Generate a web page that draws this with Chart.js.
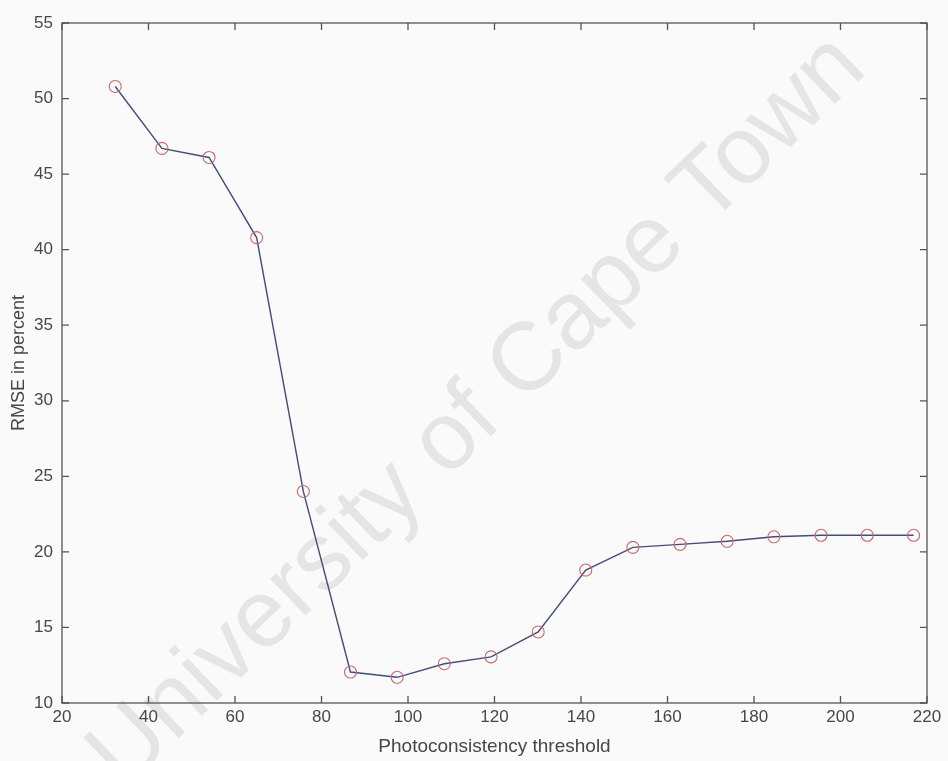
<!DOCTYPE html>
<html>
<head>
<meta charset="utf-8">
<script src="https://cdn.jsdelivr.net/npm/chart.js@4/dist/chart.umd.min.js"></script>
<style>
  html, body { margin: 0; padding: 0; background: #fafafa; }
  #wrap { width: 948px; height: 761px; }
</style>
</head>
<body>
<div id="wrap"><canvas id="chart" width="948" height="761"></canvas></div>
<script>
const thresholds = [32.3, 43.1, 54.0, 65.0, 75.8, 86.7, 97.5, 108.4, 119.2, 130.1, 141.1, 152.0, 162.9, 173.8, 184.6, 195.5, 206.2, 216.9];
const rmse = [50.8, 46.7, 46.1, 40.8, 24.0, 12.05, 11.7, 12.6, 13.05, 14.7, 18.8, 20.3, 20.5, 20.7, 21.0, 21.1, 21.1, 21.1];

const xTicks = [20, 40, 60, 80, 100, 120, 140, 160, 180, 200, 220];
const yTicks = [10, 15, 20, 25, 30, 35, 40, 45, 50, 55];

const FONT = "'Liberation Sans', Arial, sans-serif";
const INK = "#474747";

// page fill and the diagonal stamp behind the plot
const backdrop = {
  id: "backdrop",
  beforeDraw: chart => {
    const { ctx, width, height } = chart;
    ctx.save();
    ctx.fillStyle = "#fafafa";
    ctx.fillRect(0, 0, width, height);
    ctx.translate(478, 412);
    ctx.rotate(-44 * Math.PI / 180);
    ctx.font = `96px ${FONT}`;
    ctx.fillStyle = "#e5e5e5";
    ctx.textAlign = "center";
    ctx.textBaseline = "middle";
    ctx.fillText("University of Cape Town", 0, 0);
    ctx.restore();
  }
};

// matlab style box with inward ticks on all four sides
const boxTicks = {
  id: "boxTicks",
  afterDatasetsDraw: chart => {
    const { ctx, chartArea: a, scales } = chart;
    const len = 7;
    ctx.save();
    ctx.strokeStyle = "#555";
    ctx.lineWidth = 1.3;
    ctx.strokeRect(a.left, a.top, a.right - a.left, a.bottom - a.top);
    ctx.beginPath();
    xTicks.forEach(v => {
      const px = scales.x.getPixelForValue(v);
      ctx.moveTo(px, a.bottom); ctx.lineTo(px, a.bottom - len);
      ctx.moveTo(px, a.top); ctx.lineTo(px, a.top + len);
    });
    yTicks.forEach(v => {
      const py = scales.y.getPixelForValue(v);
      ctx.moveTo(a.left, py); ctx.lineTo(a.left + len, py);
      ctx.moveTo(a.right, py); ctx.lineTo(a.right - len, py);
    });
    ctx.stroke();
    ctx.restore();
  }
};

new Chart("chart", {
  type: "line",
  data: {
    datasets: [{
      data: thresholds.map((t, i) => ({ x: t, y: rmse[i] })),
      borderColor: "#434d7a",
      borderWidth: 1.4,
      pointStyle: "circle",
      pointRadius: 6,
      pointBorderColor: "#c86a6a",
      pointBorderWidth: 1.1,
      pointBackgroundColor: "rgba(0,0,0,0)",
      tension: 0,
      clip: false
    }]
  },
  options: {
    responsive: false,
    animation: false,
    events: [],
    layout: { padding: { left: 0, right: 21, top: 23, bottom: 0 } },
    plugins: { legend: { display: false }, tooltip: { enabled: false } },
    scales: {
      x: {
        type: "linear",
        min: 20,
        max: 220,
        afterFit: s => { s.height = 58; },
        afterBuildTicks: s => { s.ticks = xTicks.map(value => ({ value })); },
        grid: { display: false, drawTicks: false },
        border: { display: false },
        ticks: { color: INK, font: { family: FONT, size: 17 }, padding: 4, maxRotation: 0 },
        title: { display: true, text: "Photoconsistency threshold", color: INK, font: { family: FONT, size: 19 }, padding: { top: 0, bottom: 3 } }
      },
      y: {
        type: "linear",
        min: 10,
        max: 55,
        afterFit: s => { s.width = 62; },
        afterBuildTicks: s => { s.ticks = yTicks.map(value => ({ value })); },
        grid: { display: false, drawTicks: false },
        border: { display: false },
        ticks: { color: INK, font: { family: FONT, size: 17 }, padding: 9 },
        title: { display: true, text: "RMSE in percent", color: INK, font: { family: FONT, size: 18 }, padding: { top: 8, bottom: 0 } }
      }
    }
  },
  plugins: [backdrop, boxTicks]
});
</script>
</body>
</html>
